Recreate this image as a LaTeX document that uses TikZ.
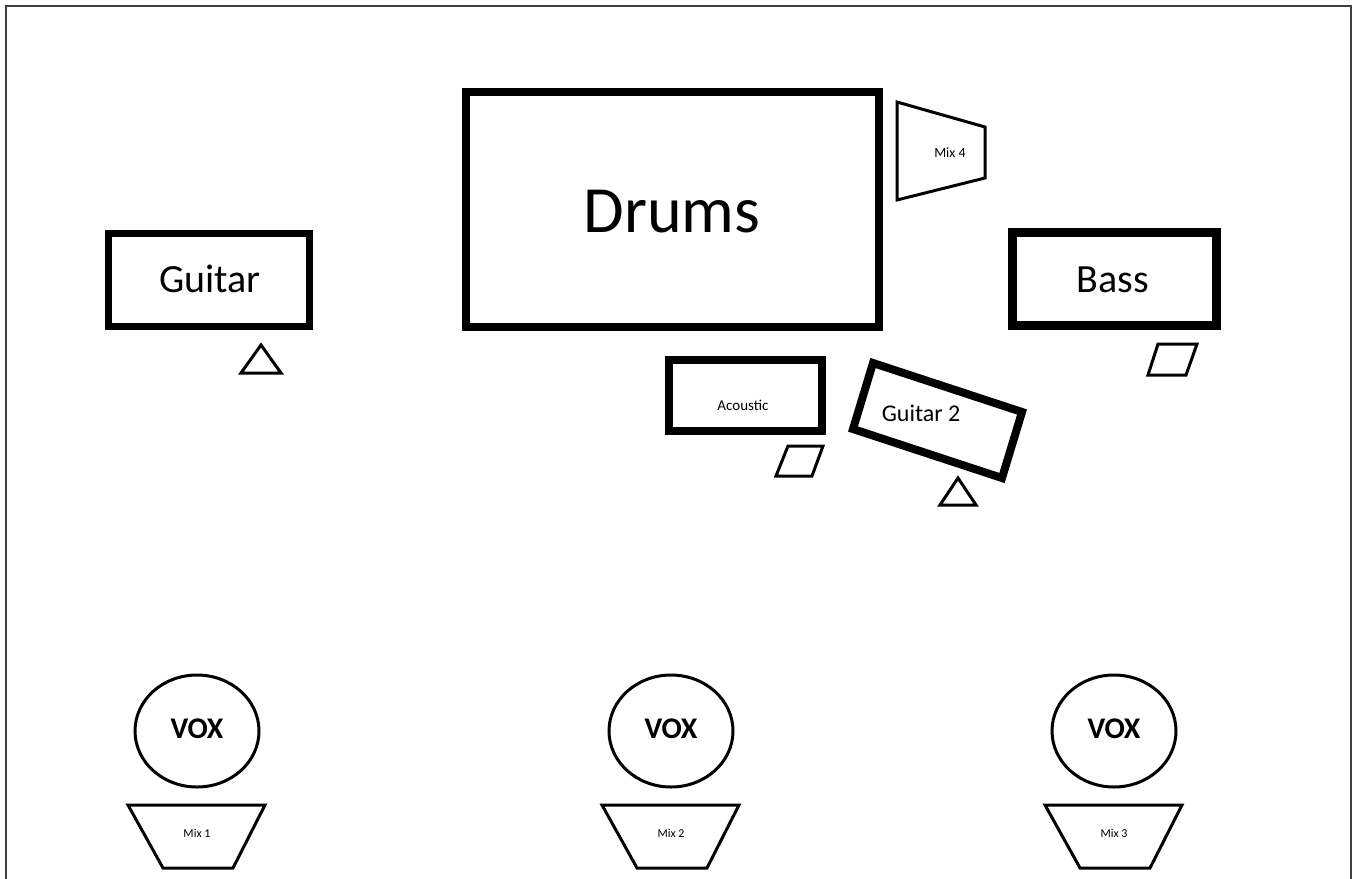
\documentclass[tikz,border=0pt]{standalone}
\usepackage{fontspec}
\setmainfont{Carlito}
\usetikzlibrary{shapes.geometric}
\begin{document}
\begin{tikzpicture}[x=1pt,y=-1pt,
  amp/.style={draw=black,line width=8pt,line join=miter},
  mon/.style={draw=black,line width=3pt,line join=miter},
  lbl/.style={inner sep=0pt,text=black}]
\useasboundingbox (0,0) rectangle (1359,878);
% frame
\draw[line width=2.2pt,color=black!75] (6,880) -- (6,6) -- (1351,6) -- (1351,880);
% Drums
\draw[amp] (466,92) rectangle (879,327);
\node[lbl,font=\fontsize{66pt}{66pt}\selectfont] (drums) at (672,212) {Drums};
% Mix 4 (drum monitor)
\draw[mon] (897,102) -- (985,127) -- (985,178) -- (897,200) -- cycle;
\node[lbl,font=\fontsize{14pt}{14pt}\selectfont] (mix4) at (950,153) {Mix 4};
% Guitar
\draw[line width=7pt,draw=black] (108,233) rectangle (309,326);
\node[lbl,font=\fontsize{40pt}{40pt}\selectfont] (guitar) at (210,279) {Guitar};
\draw[mon] (261,345) -- (281,373) -- (241,373) -- cycle;
% Bass
\draw[line width=9pt,draw=black] (1012,232) rectangle (1216,325);
\node[lbl,font=\fontsize{40pt}{40pt}\selectfont] (bass) at (1113,280) {Bass};
\draw[mon] (1158,344) -- (1197,344) -- (1186,375) -- (1148,375) -- cycle;
% Acoustic
\draw[amp] (669,360) rectangle (822,431);
\node[lbl,font=\fontsize{15pt}{15pt}\selectfont] (acoustic) at (743,405) {Acoustic};
\draw[mon] (788,446) -- (823,446) -- (812,476) -- (776,476) -- cycle;
% Guitar 2 (rotated amp)
\draw[amp] (873,363) -- (1022,412) -- (1002,478) -- (853,429) -- cycle;
\node[lbl,font=\fontsize{24pt}{24pt}\selectfont] (guitar2) at (921,413) {Guitar 2};
\draw[mon] (958,478) -- (976,505) -- (940,505) -- cycle;
% Vocals
\foreach \cx/\n in {197/1,671/2,1114/3}{
  \draw[line width=3pt] (\cx,731) ellipse [x radius=62, y radius=56];
  \node[lbl,font=\bfseries\fontsize{30pt}{30pt}\selectfont] (vox\n) at (\cx,729) {VOX};
  \draw[mon] (\cx-69,805) -- (\cx+68,805) -- (\cx+36,868) -- (\cx-34,868) -- cycle;
  \node[lbl,font=\fontsize{12pt}{12pt}\selectfont] (mix\n) at (\cx,833) {Mix \n};
}
\end{tikzpicture}
\end{document}
